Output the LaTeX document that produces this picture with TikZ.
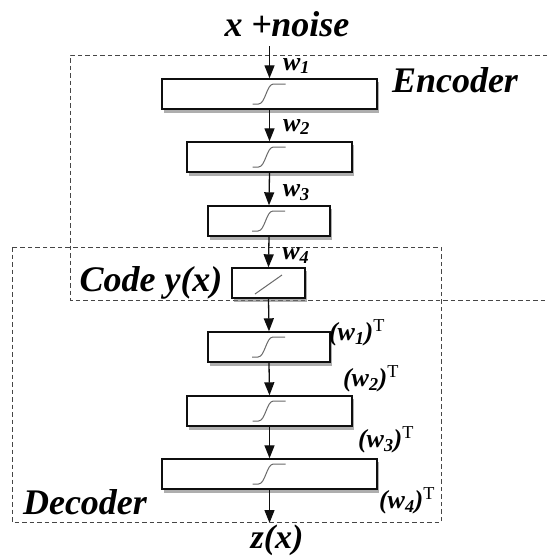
\documentclass[tikz,border=0pt]{standalone}
\usepackage{fontspec}
\setmainfont{Liberation Serif}
\usetikzlibrary{arrows.meta}
\definecolor{aeInk}{RGB}{15,15,15}
\definecolor{aeDash}{RGB}{70,70,70}
\definecolor{aeCurve}{RGB}{105,105,105}
\definecolor{aeShade}{RGB}{120,120,120}
\newcommand{\aeweight}[1]{w\textsubscript{#1}}
\newcommand{\aeweightT}[1]{(\aeweight{#1})\textsuperscript{\normalfont\mdseries\upshape T}}

\tikzset{
  layerbox/.style={draw=aeInk, fill=white, line width=1.4pt, minimum height=30pt, inner sep=0pt},
  flow/.style={-{Triangle[length=13pt,width=10pt]}, line width=1.3pt, draw=aeInk},
  region/.style={draw=aeDash, dash pattern=on 4.5pt off 3pt, line width=1pt},
  bigtag/.style={font=\fontsize{36}{40}\selectfont\bfseries\itshape, inner sep=1pt},
  wtag/.style={font=\fontsize{26}{28}\selectfont\bfseries\itshape, inner sep=1pt},
  sigm/.pic={\draw[aeCurve, line width=1pt] (-17,10) -- (-11,10)
    .. controls (-4,10) and (-3,-10) .. (4,-10) -- (16,-10);},
  linr/.pic={\draw[aeCurve, line width=1pt] (-13.5,11) -- (13.5,-8);}
}

\begin{document}
\begin{tikzpicture}[x=1pt,y=-1pt]
  \useasboundingbox (0,0) rectangle (547,560);
  % encoder / decoder regions
  \draw[region] (547,55) -- (70,55) -- (70,300) -- (547,300);
  \draw[region] (12,247) rectangle (441,522);
  \node[bigtag] (enctag) at (455,80) {Encoder};
  \node[bigtag] (codetag) at (151,283) {Code y(x)};
  \node[bigtag] (dectag) at (85,502) {Decoder};

  \node[bigtag] (input) at (287,24) {x {\upshape+}\kern-1pt noise};
  \node[bigtag, font=\fontsize{34}{36}\selectfont\bfseries\itshape] (output) at (277,540) {z(x)};
  \coordinate (outend) at (269.5,523);

  % soft shadows under the layers
  \foreach \cx/\cy/\w in {269.5/94/215, 269.5/157/165, 269/221/122, 268.5/283/73,
                          269/347/122, 269.5/411/165, 269.5/474/215}
    \fill[aeShade, opacity=0.6] (\cx-\w/2+2,\cy-12) rectangle (\cx+\w/2+2,\cy+19);

  \node[layerbox, minimum width=215pt] (enc1) at (269.5,94) {};
  \node[layerbox, minimum width=165pt] (enc2) at (269.5,157) {};
  \node[layerbox, minimum width=122pt] (enc3) at (269,221) {};
  \node[layerbox, minimum width=73pt] (code) at (268.5,283) {};
  \node[layerbox, minimum width=122pt] (dec1) at (269,347) {};
  \node[layerbox, minimum width=165pt] (dec2) at (269.5,411) {};
  \node[layerbox, minimum width=215pt] (dec3) at (269.5,474) {};
  \foreach \b in {enc1,enc2,enc3,dec1,dec2,dec3} \pic at (\b) {sigm};
  \pic at (code) {linr};

  \draw[flow] (enc1.north |- 0,46) -- node[wtag, anchor=west, pos=0.62, xshift=12pt] {\aeweight{1}} (enc1.north);
  \draw[flow] (enc1.south) -- node[wtag, anchor=west, pos=0.55, xshift=12pt] {\aeweight{2}} (enc2.north);
  \draw[flow] (enc2.south) -- node[wtag, anchor=west, pos=0.6, xshift=12pt] {\aeweight{3}} (enc3.north);
  \draw[flow] (enc3.south) -- node[wtag, anchor=west, pos=0.62, xshift=12pt] {\aeweight{4}} (code.north);
  \draw[flow] (code.south) -- (dec1.north);
  \draw[flow] (dec1.south) -- (dec2.north);
  \draw[flow] (dec2.south) -- (dec3.north);
  \draw[flow] (dec3.south) -- (outend);

  \node[wtag] (wt1) at (357,333) {\aeweightT{1}};
  \node[wtag] (wt2) at (371,379) {\aeweightT{2}};
  \node[wtag] (wt3) at (386,440) {\aeweightT{3}};
  \node[wtag] (wt4) at (407,501) {\aeweightT{4}};
\end{tikzpicture}
\end{document}
